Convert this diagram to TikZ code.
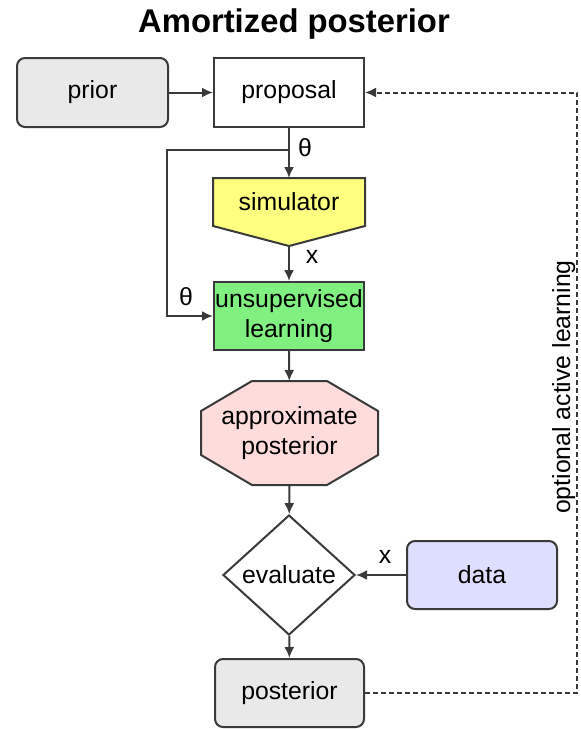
\documentclass[tikz,border=0pt]{standalone}
\usepackage{fontspec}
\setmainfont{Liberation Sans}
\usetikzlibrary{shapes.geometric,arrows.meta,calc,backgrounds}

\definecolor{boxline}{HTML}{3A3A3A}
\definecolor{priorfill}{HTML}{E9E9E9}
\definecolor{simfill}{HTML}{FFFF80}
\definecolor{unsupfill}{HTML}{80F080}
\definecolor{approxfill}{HTML}{FFDCDC}
\definecolor{datafill}{HTML}{DEDEFF}

\newcommand{\bodyfont}{\fontsize{12.4}{14.8}\selectfont}

\tikzset{
  box/.style={draw=boxline, line width=1pt, minimum width=75pt, minimum height=34.5pt,
    inner sep=0pt, align=center, font=\bodyfont},
  roundbox/.style={box, rounded corners=4pt},
  arr/.style={draw=boxline, line width=1pt, -{Latex[length=5.5pt,width=5pt]}},
  lbl/.style={font=\bodyfont, inner sep=0pt},
}

\begin{document}
\begin{tikzpicture}[x=0.5pt,y=-0.5pt]
    \useasboundingbox (0,0) rectangle (580,729);
    %% title
    \node (title) [anchor=base, font=\fontsize{16.4}{19}\selectfont\bfseries] at (294,32) {Amortized posterior};
    %% top row
    \node (prior) [roundbox, fill=priorfill, minimum width=75.5pt] at (92.5,92.5) {prior};
    \node (proposal) [box, fill=white] at (289,92.5) {proposal};
    %% main column
    \node (sim) [box, draw=none, minimum height=23pt] at (289,202) {simulator};
    \coordinate (simtip) at ($(sim.south)+(0,20)$);
    \node (unsup) [box, fill=unsupfill, minimum height=34pt] at (289,316) {unsupervised\\learning};
    \node (approx) [box, draw=none, minimum width=87.5pt, minimum height=51pt] at (289.5,433) {approximate\\posterior};
    \node (eval) [diamond, draw=boxline, line width=1pt, fill=white, minimum width=66pt,
        minimum height=60pt, inner sep=0pt, font=\bodyfont] at (289,575) {evaluate};
    \node (data) [roundbox, fill=datafill, minimum height=34pt] at (482,575) {data};
    \node (post) [roundbox, fill=priorfill, minimum width=74.5pt, minimum height=34pt] at (289.5,693) {posterior};
    %% outlines behind the text (pointed box and octagon)
    \begin{scope}[on background layer]
        \draw[boxline, line width=1pt, fill=simfill] (sim.north west) -- (sim.north east)
            -- (sim.south east) -- (simtip) -- (sim.south west) -- cycle;
        \draw[boxline, line width=1pt, fill=approxfill]
            ($(approx.north west)+(51,0)$) -- ($(approx.north east)+(-51,0)$)
            -- ($(approx.north east)+(0,30)$) -- ($(approx.south east)+(0,-30)$)
            -- ($(approx.south east)+(-51,0)$) -- ($(approx.south west)+(51,0)$)
            -- ($(approx.south west)+(0,-30)$) -- ($(approx.north west)+(0,30)$) -- cycle;
    \end{scope}
    %% connectors
    \coordinate (split) at ($(proposal.south)+(0,22)$);
    \draw[arr] (prior) -- (proposal);
    \draw[arr] (proposal) -- (sim);
    \draw[arr] (split) -- ++(-122,0) |- (unsup.west);
    \draw[arr] (simtip) -- (unsup);
    \draw[arr] (unsup) -- (approx);
    \draw[arr] (approx) -- (eval);
    \draw[arr] (data) -- (eval);
    \draw[arr] (eval) -- (post);
    \draw[arr, dash pattern=on 2.5pt off 1.5pt] (post.east) -- ++(212,0) |- (proposal.east);
    %% labels
    \node (thtop) [lbl] at (305,148) {θ};
    \node (xsim) [lbl] at (312,257) {x};
    \node (thleft) [lbl] at (186,297) {θ};
    \node (xdata) [lbl] at (385,557) {x};
    \node (optlabel) [lbl, rotate=90, anchor=base] at (570,387) {optional active learning};
\end{tikzpicture}
\end{document}
